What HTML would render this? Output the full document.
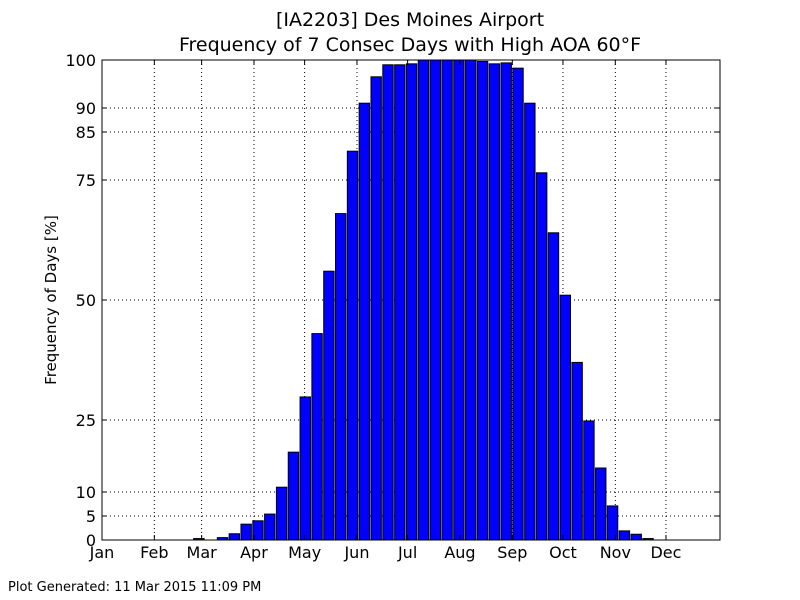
<!DOCTYPE html>
<html><head><meta charset="utf-8"><style>
body{margin:0;background:#fff;}
svg{display:block;font-family:"DejaVu Sans","Liberation Sans",sans-serif;}
</style></head><body>
<svg id="chart" width="800" height="600">
<rect width="800" height="600" fill="#fff"/>
<text x="410" y="26" font-size="19" text-anchor="middle">[IA2203] Des Moines Airport</text>
<text x="410" y="51" font-size="19" text-anchor="middle">Frequency of 7 Consec Days with High AOA 60°F</text>
<text transform="translate(56,300) rotate(-90)" font-size="15" text-anchor="middle">Frequency of Days [%]</text>
<text x="8" y="591" font-size="13">Plot Generated: 11 Mar 2015 11:09 PM</text>
<g id="grid"></g>
<g id="bars"></g>
<g id="axes"></g>
</svg>
<script>
const values = [0,0,0,0,0,0,0,0.3,0,0.5,1.3,3.3,4,5.4,11,18.3,29.8,43,56,68,81,91,96.5,99,99,99.2,100,100,100,100,100,99.7,99.2,99.4,98.3,91,76.5,64,51,37,24.8,15,7.1,1.9,1.2,0.3,0,0,0,0,0,0];
const yTicks = [0,5,10,25,50,75,85,90,100];
const monthLabels = ["Jan","Feb","Mar","Apr","May","Jun","Jul","Aug","Sep","Oct","Nov","Dec"];
const monthDays = [0,31,59,90,120,151,181,212,243,273,304,334];

const L=102,R=720,T=60,B=540;
const NS="http://www.w3.org/2000/svg";
function y(v){return B-(v/100)*(B-T);}
function xDay(d){return L+d*(R-L)/366;}
function xBar(i){return xDay(i*7+5.3);}
const barW=7*(R-L)/366*0.88;
function mk(tag,attrs,parent){const e=document.createElementNS(NS,tag);for(const k in attrs)e.setAttribute(k,attrs[k]);parent.appendChild(e);return e;}
const grid=document.getElementById('grid'),bars=document.getElementById('bars'),axes=document.getElementById('axes');
yTicks.forEach(t=>{
  const l=mk('line',{x1:L,x2:R,y1:y(t),y2:y(t),stroke:'#000','stroke-width':1,'stroke-dasharray':'1,3'},grid);
  
  
  const tx=mk('text',{x:L-6,y:y(t)+6,'font-size':16,'text-anchor':'end'},axes);
  tx.textContent=t;
  
  
  mk('line',{x1:L,x2:L+5,y1:y(t),y2:y(t),stroke:'#000'},axes);
  mk('line',{x1:R,x2:R-5,y1:y(t),y2:y(t),stroke:'#000'},axes);
});
monthDays.forEach((d,i)=>{
  const xx=xDay(d);
  const l=mk('line',{x1:xx,x2:xx,y1:T,y2:B,stroke:'#000','stroke-width':1,'stroke-dasharray':'1,3'},grid);
  
  
  const tx=mk('text',{x:xx,y:B+18,'font-size':16,'text-anchor':'middle'},axes);
  tx.textContent=monthLabels[i];
  
  
  mk('line',{x1:xx,x2:xx,y1:B,y2:B-5,stroke:'#000'},axes);
  mk('line',{x1:xx,x2:xx,y1:T,y2:T+5,stroke:'#000'},axes);
});
values.forEach((v,i)=>{
  if(v<=0)return;
  const r=mk('rect',{x:xBar(i),y:y(v),width:barW,height:B-y(v),fill:'#0000ff',stroke:'#000','stroke-width':1},bars);
  
  
});
const frame=mk('rect',{x:L,y:T,width:R-L,height:B-T,fill:'none',stroke:'#000','stroke-width':1},axes);


</script>
</body></html>
